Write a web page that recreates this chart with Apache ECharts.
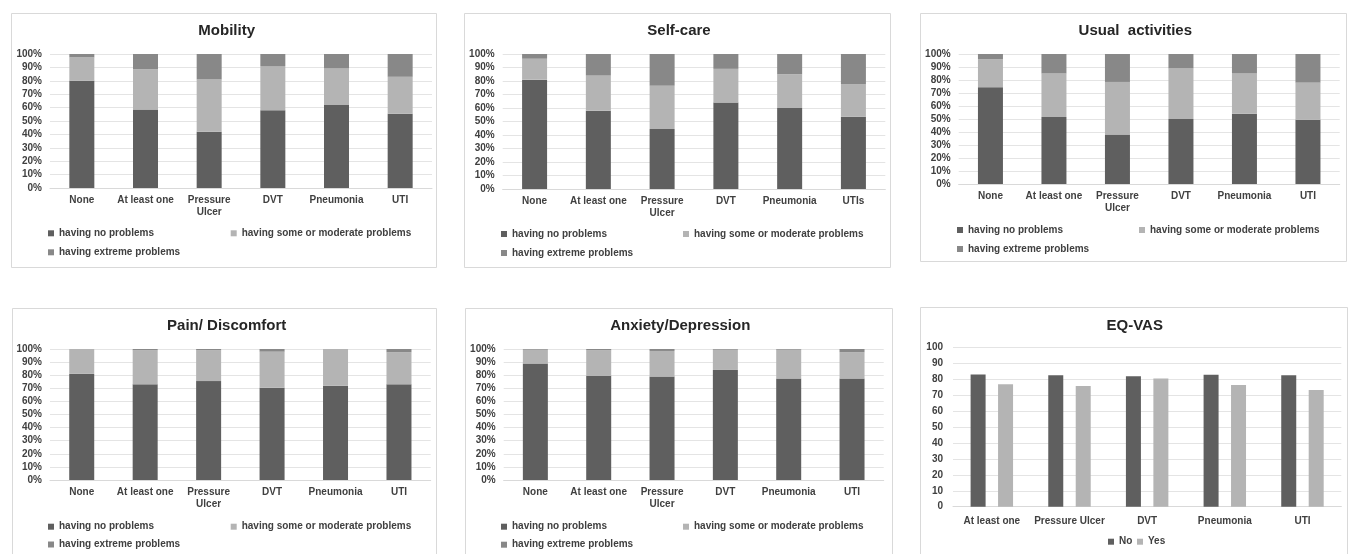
<!DOCTYPE html>
<html>
<head>
<meta charset="utf-8">
<script src="https://cdn.jsdelivr.net/npm/echarts@6/dist/echarts.min.js"></script>
<style>
html,body{margin:0;padding:0;background:#fff;}
#chart{width:1356px;height:554px;}
</style>
</head>
<body>
<div id="chart"></div>
<script>
// ---------- DATA ----------
const categories = ['None', 'At least one', 'Pressure\nUlcer', 'DVT', 'Pneumonia', 'UTI'];
const categoriesSelfCare = ['None', 'At least one', 'Pressure\nUlcer', 'DVT', 'Pneumonia', 'UTIs'];
const vasCategories = ['At least one', 'Pressure Ulcer', 'DVT', 'Pneumonia', 'UTI'];

const seriesNames = ['having no problems', 'having some or moderate problems', 'having extreme problems'];
const vasSeriesNames = ['No', 'Yes'];

const mobilityNo       = [80, 58.5, 42, 58, 62, 55.5];
const mobilityModerate = [17.5, 30, 39, 33, 27.5, 27.5];
const mobilityExtreme  = [2.5, 11.5, 19, 9, 10.5, 17];

const selfCareNo       = [81, 58, 44.5, 64, 60, 53.5];
const selfCareModerate = [15.5, 26, 32, 25, 25, 24];
const selfCareExtreme  = [3.5, 16, 23.5, 11, 15, 22.5];

const usualNo       = [74.5, 51.5, 38, 50, 54, 49.5];
const usualModerate = [21.5, 33.5, 40.5, 39, 31, 28.5];
const usualExtreme  = [4, 15, 21.5, 11, 15, 22];

const painNo       = [81, 73, 75.5, 70.5, 72, 73];
const painModerate = [19, 26, 23.5, 27.5, 28, 24.5];
const painExtreme  = [0, 1, 1, 2, 0, 2.5];

const anxietyNo       = [89, 79.5, 79, 84, 77.5, 77.5];
const anxietyModerate = [10.5, 19.5, 19.5, 15.5, 22, 20];
const anxietyExtreme  = [0.5, 1, 1.5, 0.5, 0.5, 2.5];

const vasNo  = [83.2, 82.6, 82.1, 83.0, 82.6];
const vasYes = [77.0, 75.9, 80.6, 76.6, 73.4];

const titles = ['Mobility', 'Self-care', 'Usual  activities', 'Pain/ Discomfort', 'Anxiety/Depression', 'EQ-VAS'];

// ---------- LAYOUT / STYLE ----------
const COLORS = ['#5f5f5f', '#b4b4b4', '#888888'];
const LABEL_COLOR = '#404040';
const FONT = 'Liberation Sans, Arial, sans-serif';

const percentPanels = [
  {cats: categories,         vals: [mobilityNo, mobilityModerate, mobilityExtreme],
   grid: {left: 50, top: 54, width: 382, height: 134}, box: [11, 13, 425, 254], title: [226.7, 30.7],
   legend: [[48, 234.3], [230.7, 234.3], [48, 253.3]]},
  {cats: categoriesSelfCare, vals: [selfCareNo, selfCareModerate, selfCareExtreme],
   grid: {left: 502.7, top: 54, width: 382.6, height: 135}, box: [464, 13, 426, 254], title: [679, 30.7],
   legend: [[501, 235], [683, 235], [501, 254]]},
  {cats: categories,         vals: [usualNo, usualModerate, usualExtreme],
   grid: {left: 958.7, top: 54, width: 381, height: 130}, box: [920, 13, 426, 248], title: [1135.3, 30.7],
   legend: [[957, 231], [1139, 231], [957, 250]]},
  {cats: categories,         vals: [painNo, painModerate, painExtreme],
   grid: {left: 50, top: 349, width: 380.7, height: 131}, box: [12, 308, 424, 260], title: [226.7, 325.7],
   legend: [[48, 527.7], [230.7, 527.7], [48, 545.5]]},
  {cats: categories,         vals: [anxietyNo, anxietyModerate, anxietyExtreme],
   grid: {left: 503.7, top: 349, width: 380, height: 131}, box: [465, 308, 427, 260], title: [680.3, 325.7],
   legend: [[501, 527.7], [683, 527.7], [501, 545.7]]}
];
const vasPanel = {grid: {left: 953, top: 347.7, width: 388.3, height: 159}, box: [920, 307, 427, 260],
  title: [1134.7, 325.7], legend: [[1108, 542.7], [1137, 542.7]]};

const grids = [], xAxes = [], yAxes = [], series = [], legends = [], graphics = [];

function axisLabelStyle(extra) {
  return Object.assign({color: LABEL_COLOR, fontSize: 10, fontWeight: 'bold', fontFamily: FONT}, extra || {});
}

function addBox(box, titlePos, text) {
  graphics.push({type: 'rect', silent: true, z: -1,
    shape: {x: box[0] + 0.5, y: box[1] + 0.5, width: box[2], height: box[3]},
    style: {fill: 'none', stroke: '#d9d9d9', lineWidth: 1}});
  graphics.push({type: 'text', silent: true, x: titlePos[0], y: titlePos[1],
    style: {text: text, fill: '#262626', font: 'bold 15px ' + FONT, align: 'center', verticalAlign: 'middle'}});
}

function addLegend(name, pos) {
  legends.push({data: [name], left: pos[0], top: pos[1] - 6, padding: 0, itemWidth: 6, itemHeight: 6,
    icon: 'rect', selectedMode: false,
    textStyle: {color: LABEL_COLOR, fontSize: 10, fontWeight: 'bold', fontFamily: FONT}});
}

percentPanels.forEach(function (p, i) {
  grids.push(p.grid);
  xAxes.push({type: 'category', gridIndex: i, data: p.cats,
    axisTick: {show: false}, axisLine: {lineStyle: {color: '#d9d9d9'}},
    axisLabel: axisLabelStyle({interval: 0, lineHeight: 12, margin: 6})});
  yAxes.push({type: 'value', gridIndex: i, min: 0, max: 100, interval: 10,
    axisLine: {show: false}, axisTick: {show: false},
    splitLine: {lineStyle: {color: '#e4e4e4'}},
    axisLabel: axisLabelStyle({formatter: '{value}%', margin: 8})});
  p.vals.forEach(function (arr, k) {
    series.push({type: 'bar', name: seriesNames[k], xAxisIndex: i, yAxisIndex: i, stack: 'panel' + i,
      data: arr, barWidth: 25, itemStyle: {color: COLORS[k]}, emphasis: {disabled: true}, animation: false});
  });
  addBox(p.box, p.title, titles[i]);
  seriesNames.forEach(function (n, k) { addLegend(n, p.legend[k]); });
});

// EQ-VAS panel
const vi = percentPanels.length;
grids.push(vasPanel.grid);
xAxes.push({type: 'category', gridIndex: vi, data: vasCategories,
  axisTick: {show: false}, axisLine: {lineStyle: {color: '#d9d9d9'}},
  axisLabel: axisLabelStyle({interval: 0, margin: 10})});
yAxes.push({type: 'value', gridIndex: vi, min: 0, max: 100, interval: 10,
  axisLine: {show: false}, axisTick: {show: false},
  splitLine: {lineStyle: {color: '#e4e4e4'}},
  axisLabel: axisLabelStyle({margin: 10})});
[vasNo, vasYes].forEach(function (arr, k) {
  series.push({type: 'bar', name: vasSeriesNames[k], xAxisIndex: vi, yAxisIndex: vi,
    data: arr, barWidth: 15, barGap: '83%', itemStyle: {color: COLORS[k]}, emphasis: {disabled: true}, animation: false});
});
addBox(vasPanel.box, vasPanel.title, titles[5]);
vasSeriesNames.forEach(function (n, k) { addLegend(n, vasPanel.legend[k]); });

const chart = echarts.init(document.getElementById('chart'), null, {renderer: 'canvas'});
chart.setOption({
  backgroundColor: '#ffffff',
  animation: false,
  grid: grids,
  xAxis: xAxes,
  yAxis: yAxes,
  legend: legends,
  series: series,
  graphic: graphics
});
</script>
</body>
</html>
